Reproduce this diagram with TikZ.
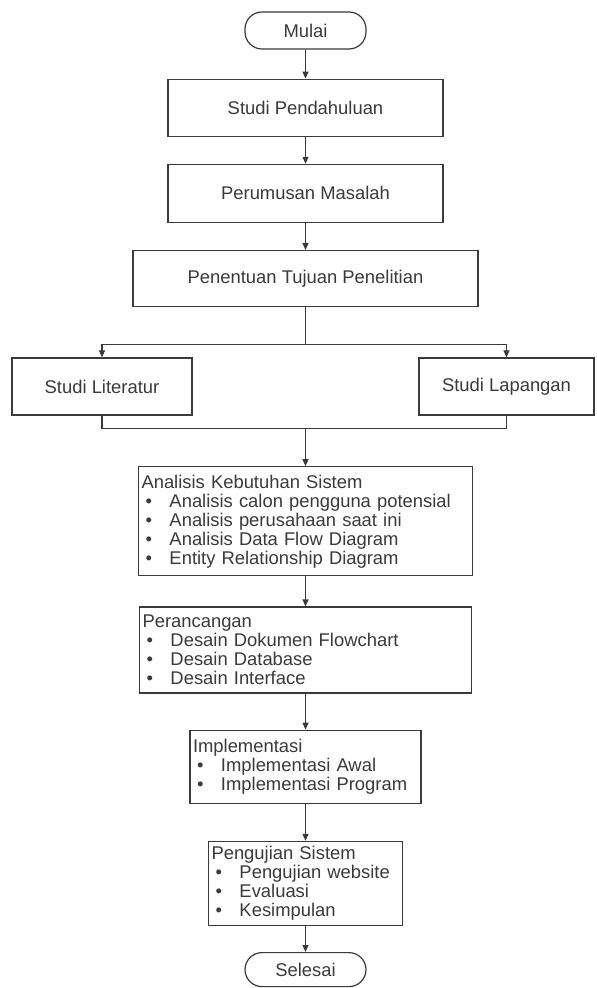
\documentclass[tikz,border=0pt]{standalone}
\usepackage{fontspec}
\setmainfont{Liberation Sans}
\usetikzlibrary{positioning,arrows.meta}
\definecolor{garis}{HTML}{3A3A3A}
\newcommand{\butir}[1]{\hspace*{2pt}\makebox[12pt][l]{\textbullet}#1}

\begin{document}
\begin{tikzpicture}[>={Triangle[length=3.5pt,width=3pt]},font=\fontsize{9.2}{9.5}\selectfont,
    kotak/.style={draw=garis,text=garis,line width=0.6pt,align=center},
    ujung/.style={kotak,rounded corners=8.5pt},
    daftar/.style={kotak,align=left,inner xsep=1.5pt,inner ysep=1pt}]
  \useasboundingbox[fill=white] (0,0) rectangle (298.5pt,-494pt);
  \node[ujung,minimum width=60.5pt,minimum height=18.5pt] (mulai) at (152.75pt,-15.25pt) {Mulai};
  \node[kotak,below=14.5pt of mulai,minimum width=137.5pt,minimum height=28.5pt] (studi) {Studi Pendahuluan};
  \node[kotak,below=13.5pt of studi,minimum width=137.5pt,minimum height=29pt] (rumus) {Perumusan Masalah};
  \node[kotak,below=13.5pt of rumus,minimum width=172.5pt,minimum height=28pt] (tujuan) {Penentuan Tujuan Penelitian};
  \node[kotak,minimum width=90pt,minimum height=28.5pt] (lit) at (51pt,-193.25pt) {Studi Literatur};
  \node[kotak,minimum width=87.5pt,minimum height=28.5pt] (lap) at (253.25pt,-193.25pt) {Studi Lapangan};
  \node[daftar,below=79.5pt of tujuan,text width=164pt,minimum height=54.5pt] (analisis) {Analisis Kebutuhan Sistem\\
    \butir{Analisis calon pengguna potensial}\\
    \butir{Analisis perusahaan saat ini}\\
    \butir{Analisis Data Flow Diagram}\\
    \butir{Entity Relationship Diagram}};
  \node[daftar,below=15pt of analisis,text width=163pt,minimum height=43pt] (rancang) {Perancangan\\
    \butir{Desain Dokumen Flowchart}\\
    \butir{Desain Database}\\
    \butir{Desain Interface}};
  \node[daftar,below=18pt of rancang,text width=112.5pt,minimum height=36.5pt] (impl) {Implementasi\\
    \butir{Implementasi Awal}\\
    \butir{Implementasi Program}};
  \node[daftar,below=18.5pt of impl,text width=94pt,minimum height=42pt] (uji) {Pengujian Sistem\\
    \butir{Pengujian website}\\
    \butir{Evaluasi}\\
    \butir{Kesimpulan}};
  \node[ujung,below=13pt of uji,minimum width=60.5pt,minimum height=17pt] (selesai) {Selesai};
  \coordinate[below=18.5pt of tujuan] (cabang);
  \coordinate[above=19pt of analisis] (gabung);
  \begin{scope}[draw=garis,line width=0.6pt]
    \draw[->] (mulai)--(studi);
    \draw[->] (studi)--(rumus);
    \draw[->] (rumus)--(tujuan);
    \draw[->] (tujuan.south)--(cabang) -| (lit.north);
    \draw[->] (cabang) -| (lap.north);
    \draw (lit.south) |- (gabung) -| (lap.south);
    \draw[->] (gabung)--(analisis);
    \draw[->] (analisis)--(rancang);
    \draw[->] (rancang)--(impl);
    \draw[->] (impl)--(uji);
    \draw[->] (uji)--(selesai);
  \end{scope}
\end{tikzpicture}
\end{document}
